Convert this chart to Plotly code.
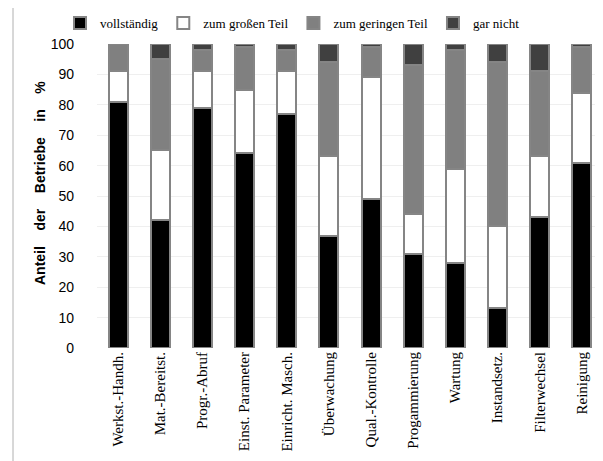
import plotly.graph_objects as go

categories = ["Werkst.-Handh.", "Mat.-Bereitst.", "Progr.-Abruf", "Einst. Parameter",
              "Einricht. Masch.", "Überwachung", "Qual.-Kontrolle", "Progammierung",
              "Wartung", "Instandsetz.", "Filterwechsel", "Reinigung"]
vollstaendig = [81, 42, 79, 64, 77, 37, 49, 31, 28, 13, 43, 61]
grossen_teil = [10, 23, 12, 21, 14, 26, 40, 13, 31, 27, 20, 23]
geringen_teil = [9, 30, 7, 14, 7, 31, 10, 49, 39, 54, 28, 15]
gar_nicht = [0, 5, 2, 1, 2, 6, 1, 7, 2, 6, 9, 1]
y_ticks = [0, 10, 20, 30, 40, 50, 60, 70, 80, 90, 100]

# page offset from the default body margin
OFF = 8
W, H = 603 - OFF, 461 - OFF
ML, MT = 97 - OFF, 44 - OFF
PLOT_RIGHT, PLOT_BOTTOM = W, 348 - OFF
MR = 0
MB = H - PLOT_BOTTOM
PW, PH = PLOT_RIGHT - ML, PLOT_BOTTOM - MT

def px_x(p):
    return (p - OFF - ML) / PW

def px_y(p):
    return (PLOT_BOTTOM - (p - OFF)) / PH

series = [
    ("vollständig", vollstaendig, "#000000"),
    ("zum großen Teil", grossen_teil, "#ffffff"),
    ("zum geringen Teil", geringen_teil, "#808080"),
    ("gar nicht", gar_nicht, "#404040"),
]

fig = go.Figure()
for name, vals, col in series:
    fig.add_trace(go.Bar(
        x=categories, y=vals, name=name,
        marker=dict(color=col, line=dict(color="#858585", width=2)),
        width=0.45,
    ))

fig.update_layout(
    barmode="stack",
    width=W, height=H,
    margin=dict(l=ML, r=MR, t=MT, b=MB, pad=0, autoexpand=False),
    paper_bgcolor="white", plot_bgcolor="white",
    showlegend=True,
    legend=dict(orientation="h", x=px_x(60), y=px_y(23), xanchor="left", yanchor="middle",
                font=dict(family="Liberation Serif", size=13, color="#000"),
                itemwidth=30, bgcolor="rgba(0,0,0,0)", traceorder="normal"),
    font=dict(family="Liberation Sans", size=13, color="#000"),
)
fig.update_yaxes(
    range=[0, 100], tickvals=y_ticks, ticktext=[str(v) for v in y_ticks],
    showgrid=True, gridcolor="#efefef", gridwidth=1,
    zeroline=False, showline=False,
    ticks="", ticklabelstandoff=22,
    tickfont=dict(family="Liberation Sans", size=14, color="#000"),
)
fig.update_xaxes(
    tickangle=-90, showline=False, ticks="", showgrid=False,
    tickfont=dict(family="Liberation Serif", size=15, color="#000"),
)
fig.add_annotation(
    text="<b>Anteil\u00a0\u00a0\u00a0 der\u00a0\u00a0\u00a0 Betriebe\u00a0\u00a0\u00a0 in\u00a0\u00a0\u00a0 %</b>",
    xref="paper", yref="paper", x=px_x(40), y=px_y(183),
    xanchor="center", yanchor="middle", textangle=-90, showarrow=False,
    font=dict(family="Liberation Sans", size=14, color="#000"),
)
fig.add_shape(type="line", xref="paper", yref="paper",
              x0=px_x(13), x1=px_x(13), y0=px_y(461), y1=px_y(7),
              line=dict(color="#b0b0b0", width=1))
fig.add_shape(type="line", xref="paper", yref="paper",
              x0=px_x(13), x1=px_x(603), y0=px_y(7), y1=px_y(7),
              line=dict(color="#b0b0b0", width=1.5))

fig.write_html("out.html")
